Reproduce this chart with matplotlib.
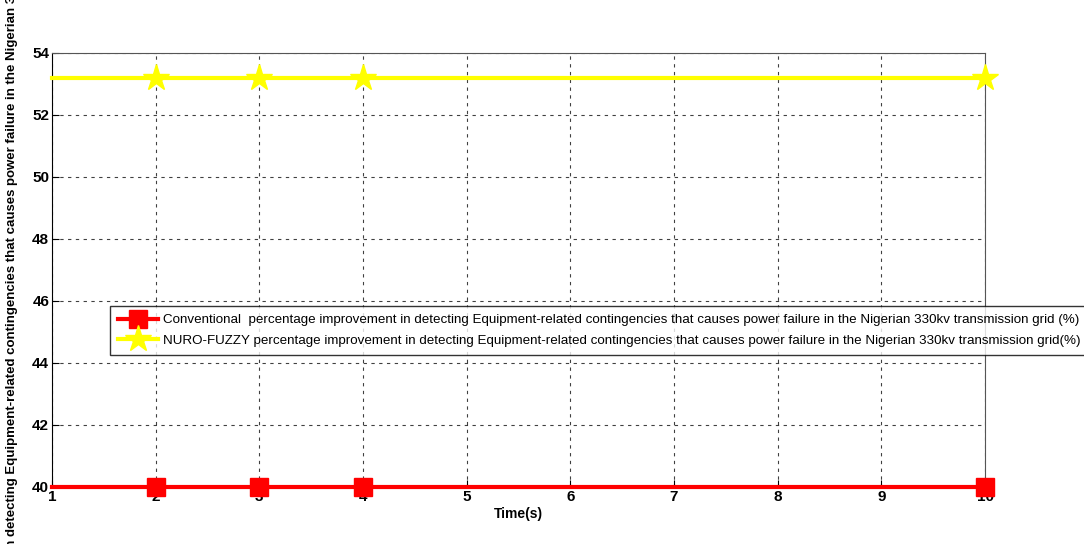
import matplotlib
matplotlib.use("Agg")
import matplotlib.pyplot as plt

time_s = [1, 2, 3, 4, 10]
conventional = [40, 40, 40, 40, 40]
nuro_fuzzy = [53.2, 53.2, 53.2, 53.2, 53.2]
x_ticks = list(range(1, 11))
y_ticks = list(range(40, 55, 2))

label_conv = ("Conventional  percentage improvement in detecting Equipment-related contingencies "
              "that causes power failure in the Nigerian 330kv transmission grid (%)")
label_nf = ("NURO-FUZZY percentage improvement in detecting Equipment-related contingencies "
            "that causes power failure in the Nigerian 330kv transmission grid(%)")
y_label = ("Percentage improvement In detecting Equipment-related contingencies that causes "
           "power failure in the Nigerian 330kv transmission grid (%)")

plt.rcParams['font.family'] = ['Liberation Sans', 'DejaVu Sans']

fig = plt.figure(figsize=(10.84, 5.44), dpi=100)
ax = fig.add_axes([52 / 1084, 1 - 487 / 544, 933 / 1084, 434 / 544])

ax.plot(time_s, conventional, color='red', lw=3, marker='s', markersize=13,
        markevery=[1, 2, 3, 4], label=label_conv, clip_on=False, zorder=3)
ax.plot(time_s, nuro_fuzzy, color='yellow', lw=3, marker='*', markersize=20,
        markevery=[1, 2, 3, 4], label=label_nf, clip_on=False, zorder=3)

ax.set_xlim(1, 10)
ax.set_ylim(40, 54)
ax.set_xticks(x_ticks)
ax.set_yticks(y_ticks)
ax.tick_params(direction='in', length=5, labelsize=11, pad=2)
for t in ax.get_xticklabels() + ax.get_yticklabels():
    t.set_fontweight('bold')
ax.grid(True, color='black', linestyle=(0, (3, 4)), lw=0.8, alpha=0.75)
for s in ax.spines.values():
    s.set_color('#555555')
ax.spines['left'].set_color('black')
ax.spines['bottom'].set_color('black')

ax.set_xlabel('Time(s)', fontweight='bold', fontsize=10, labelpad=2)
ax.set_ylabel(y_label, fontweight='bold', fontsize=9.5)
ax.yaxis.set_label_coords(-34 / 933, 0.5)

leg = ax.legend(loc='upper left', bbox_to_anchor=(58 / 933, 181 / 434), fontsize=9.6,
                frameon=True, fancybox=False, edgecolor='black', borderpad=0.6,
                handlelength=3.0, handletextpad=0.4, labelspacing=0.6, borderaxespad=0)
leg.get_frame().set_linewidth(1)
leg.set_zorder(5)

fig.savefig('out.png', dpi=100)
